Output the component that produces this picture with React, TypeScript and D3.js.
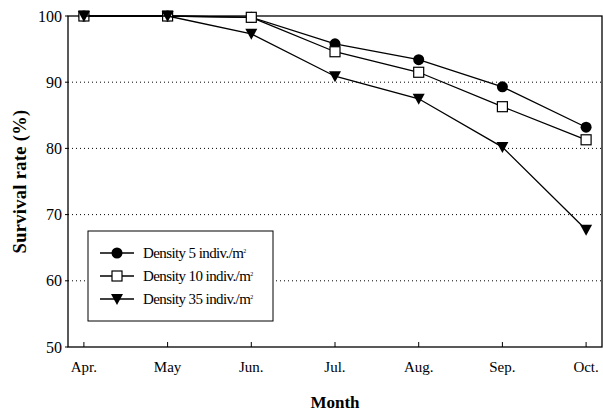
import React from "react";
import * as d3 from "d3";

const months = ["Apr.", "May", "Jun.", "Jul.", "Aug.", "Sep.", "Oct."];
const density5 = [100, 100, 99.8, 95.8, 93.4, 89.3, 83.2];
const density10 = [100, 100, 99.8, 94.6, 91.5, 86.3, 81.3];
const density35 = [100, 100, 97.3, 90.9, 87.5, 80.2, 67.7];
const yTicks = [50, 60, 70, 80, 90, 100];
const gridTicks = [60, 70, 80, 90];
const seriesNames = ["Density 5 indiv./m", "Density 10 indiv./m", "Density 35 indiv./m"];

const W = 603, H = 416;
const m = { left: 68, right: 1, top: 16, bottom: 69 };
const font = "Liberation Serif, Times New Roman, DejaVu Serif, serif";

function Marker({ type, x, y }: { type: number; x: number; y: number }) {
  if (type === 0) return <circle cx={x} cy={y} r={5.5} fill="#000" />;
  if (type === 1)
    return <rect x={x - 5} y={y - 5} width={10} height={10} fill="#fff" stroke="#000" strokeWidth={1.2} />;
  return <path d={`M${x - 6},${y - 5}L${x + 6},${y - 5}L${x},${y + 6}Z`} fill="#000" />;
}

export default function App() {
  const x = d3.scalePoint<string>().domain(months).range([m.left, W - m.right]).padding(0.19);
  const y = d3.scaleLinear().domain([50, 100]).range([H - m.bottom, m.top]);
  const series = [density5, density10, density35];
  const line = d3
    .line<number>()
    .x((_, i) => x(months[i])!)
    .y((d) => y(d));
  const legX = 88, legY = 231;
  return (
    <svg width={W} height={H} style={{ position: "absolute", left: 0, top: 0, background: "#fff", fontFamily: font }}>
      {gridTicks.map((t) => (
        <line key={t} x1={m.left} x2={W - m.right} y1={y(t)} y2={y(t)} stroke="#000" strokeWidth={1} strokeDasharray="1,3" />
      ))}
      <rect x={m.left} y={m.top} width={W - m.right - m.left} height={H - m.bottom - m.top} fill="none" stroke="#000" strokeWidth={1.3} />
      {yTicks.map((t) => (
        <g key={t}>
          <line x1={m.left - 3} x2={m.left} y1={y(t)} y2={y(t)} stroke="#000" />
          <text x={m.left - 6} y={y(t)} dy="0.35em" textAnchor="end" fontSize={16} style={{ fontFamily: font }}>{t}</text>
        </g>
      ))}
      {months.map((mo) => (
        <g key={mo}>
          <line x1={x(mo)} x2={x(mo)} y1={H - m.bottom} y2={H - m.bottom - 5} stroke="#000" />
          <text x={x(mo)} y={H - m.bottom + 25} textAnchor="middle" fontSize={15} style={{ fontFamily: font }}>{mo}</text>
        </g>
      ))}
      {series.map((s, i) => (
        <g key={i}>
          <path d={line(s)!} fill="none" stroke="#000" strokeWidth={1.3} />
          {s.map((v, j) => (
            <Marker key={j} type={i} x={x(months[j])!} y={y(v)} />
          ))}
        </g>
      ))}
      <rect x={legX} y={legY} width={185} height={90} fill="#fff" stroke="#000" strokeWidth={1} />
      {seriesNames.map((n, i) => {
        const ly = legY + 22 + i * 23;
        return (
          <g key={n}>
            <line x1={legX + 12} x2={legX + 46} y1={ly} y2={ly} stroke="#000" strokeWidth={1.3} />
            <Marker type={i} x={legX + 29} y={ly} />
            <text x={legX + 55} y={ly} dy="0.35em" fontSize={15} letterSpacing={-0.6} style={{ fontFamily: font }}>
              {n}
              <tspan fontSize={6} dy="-0.9em">2</tspan>
            </text>
          </g>
        );
      })}
      <text transform={`translate(26,${(m.top + H - m.bottom) / 2}) rotate(-90)`} textAnchor="middle" fontSize={18.5} fontWeight="bold" letterSpacing={0.3} style={{ fontFamily: font }}>
        Survival rate (%)
      </text>
      <text x={335} y={408} textAnchor="middle" fontSize={17} fontWeight="bold" style={{ fontFamily: font }}>Month</text>
    </svg>
  );
}
